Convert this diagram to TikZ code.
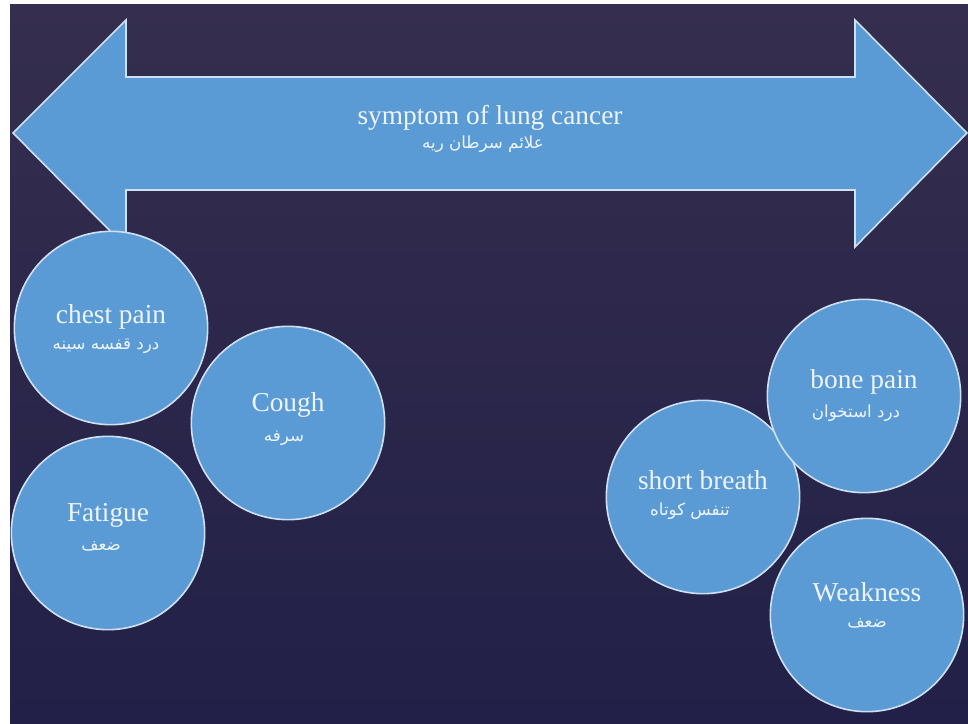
\documentclass[tikz,border=0pt]{standalone}
\usepackage{fontspec}
\setmainfont{Liberation Serif}
\newfontfamily\arabicfont[Script=Arabic]{DejaVu Sans}
\TeXXeTstate=1
\definecolor{bgtop}{HTML}{352E4E}
\definecolor{bgbot}{HTML}{222048}
\definecolor{shapefill}{HTML}{5B9BD5}
\definecolor{shapeline}{HTML}{CFE0F2}
\definecolor{txt}{HTML}{EEF4FA}
\begin{document}
\begin{tikzpicture}[x=0.75pt,y=-0.75pt,
  blob/.style={circle, minimum size=145pt, inner sep=0pt, fill=shapefill, draw=shapeline, line width=1.2pt},
  entxt/.style={text=txt, font=\fontsize{20.5}{23}\selectfont},
  artxt/.style={text=txt, font=\arabicfont\fontsize{12.5}{14}\selectfont}]
\useasboundingbox (0,0) rectangle (968,724);
\fill[white] (0,0) rectangle (968,724);
\shade[top color=bgtop, bottom color=bgbot] (10,5) rectangle (968,724);
% double arrow
\coordinate (lt) at (13,133);
\coordinate (rt) at (967,133);
\draw[fill=shapefill, draw=shapeline, line width=1.2pt]
  (lt) -- (126,20) -- (126,77) -- (855,77) -- (855,20) -- (rt) -- (855,247) -- (855,190) -- (126,190) -- (126,247) -- cycle;
\node[entxt] (title) at (490,118) {symptom of lung cancer};
\node[artxt] (titlear) at (483,144) {\beginR علائم سرطان ریه\endR};
% circles
\node[blob] (chest) at (111,328) {};
\node[blob] (cough) at (288,423) {};
\node[blob] (fatigue) at (108,533) {};
\node[blob] (breath) at (703,497) {};
\node[blob] (bone) at (864,396) {};
\node[blob] (weak) at (867,615) {};
% labels
\node[entxt] (chestT) at (111,317) {chest pain};
\node[artxt] (chestA) at (106,346) {\beginR درد قفسه سینه\endR};
\node[entxt] (coughT) at (288,405) {Cough};
\node[artxt] (coughA) at (284,438) {\beginR سرفه\endR};
\node[entxt] (fatT) at (108,515) {Fatigue};
\node[artxt] (fatA) at (101,546) {\beginR ضعف\endR};
\node[entxt] (boneT) at (864,382) {bone pain};
\node[artxt] (boneA) at (856,413) {\beginR درد استخوان\endR};
\node[entxt] (breathT) at (703,480) {short breath};
\node[artxt] (breathA) at (690,511) {\beginR تنفس کوتاه\endR};
\node[entxt] (weakT) at (867,592) {Weakness};
\node[artxt] (weakA) at (867,623) {\beginR ضعف\endR};
\end{tikzpicture}
\end{document}
